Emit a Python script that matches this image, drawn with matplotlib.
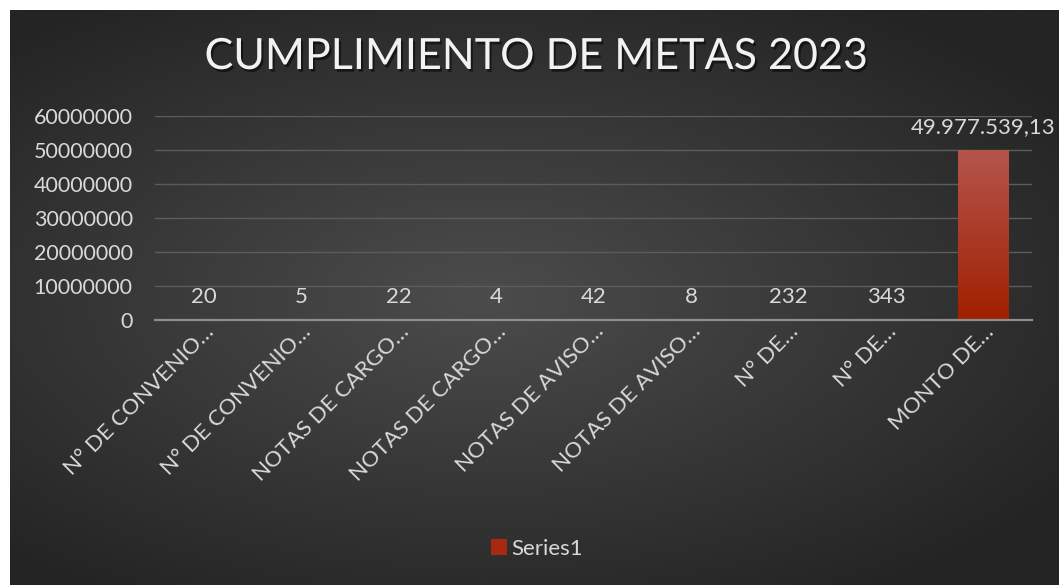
import numpy as np
import matplotlib
matplotlib.use("Agg")
import matplotlib.pyplot as plt
import matplotlib.patheffects as pe
import matplotlib.transforms as mtransforms
from matplotlib.colors import LinearSegmentedColormap

categories = ["N° DE CONVENIO…", "N° DE CONVENIO…", "NOTAS DE CARGO…", "NOTAS DE CARGO…",
              "NOTAS DE AVISO…", "NOTAS DE AVISO…", "N° DE…", "N° DE…", "MONTO DE…"]
values = [20, 5, 22, 4, 42, 8, 232, 343, 49977539.13]
yticks = [0, 10000000, 20000000, 30000000, 40000000, 50000000, 60000000]
series_name = "Series1"
title = "CUMPLIMIENTO DE METAS 2023"


def fmt(v):
    if float(v).is_integer():
        return f"{int(v)}"
    s = f"{v:,.2f}"
    return s.replace(",", "X").replace(".", ",").replace("X", ".")


FONT = "Lato"
TXT = "#d9d9d9"
W, H = 1059, 585
fig = plt.figure(figsize=(W / 100, H / 100), dpi=100, facecolor="white")

# dark background panel with radial gradient
bg = fig.add_axes([10 / W, 0, (W - 10) / W, (H - 10) / H])
bg.set_axis_off()
nx, ny = 400, 220
xx, yy = np.meshgrid(np.linspace(-1, 1, nx), np.linspace(-1, 1, ny))
r = np.sqrt(((xx + 0.1) * 1.0) ** 2 + (yy * 1.1) ** 2)
r = np.clip(r / 1.35, 0, 1)
c0 = np.array([0x4c, 0x4c, 0x4c]) / 255
c1 = np.array([0x24, 0x24, 0x24]) / 255
img = c0[None, None, :] * (1 - r[..., None]) + c1[None, None, :] * r[..., None]
bg.imshow(img, extent=[0, 1, 0, 1], aspect="auto", origin="lower")
bg.set_xlim(0, 1)
bg.set_ylim(0, 1)

# plot axes
x0, x1 = 155, 1032
ytop, ybot = 116, 320
ax = fig.add_axes([x0 / W, (H - ybot) / H, (x1 - x0) / W, (ybot - ytop) / H])
ax.set_facecolor("none")
x = np.arange(len(categories))
bars = ax.bar(x, values, width=0.52, color="#a8290e", linewidth=0, zorder=3)

# gradient on bars
grad = np.linspace(0, 1, 100).reshape(-1, 1)
cmap = LinearSegmentedColormap.from_list("bar", ["#a02000", "#b4554c"])
for b in bars:
    if b.get_height() > 1000:
        im = ax.imshow(grad, extent=[b.get_x(), b.get_x() + b.get_width(), 0, b.get_height()],
                       aspect="auto", origin="lower", cmap=cmap, zorder=4)
        im.set_clip_path(b)

ax.set_xlim(-0.5, len(categories) - 0.5)
ax.set_ylim(0, 60000000)
ax.set_yticks(yticks)
ax.set_yticklabels([str(t) for t in yticks])
ax.grid(axis="y", color="#5c5c5c", linewidth=1.0, zorder=0)
ax.set_axisbelow(True)
for s in ["top", "right", "left"]:
    ax.spines[s].set_visible(False)
ax.spines["bottom"].set_color("#8e8e8e")
ax.spines["bottom"].set_linewidth(1.6)
ax.spines["bottom"].set_zorder(5)
ax.tick_params(axis="y", length=0, pad=16, labelsize=15.5, labelcolor=TXT)
ax.tick_params(axis="x", length=0, pad=6, labelsize=16, labelcolor=TXT)
ax.set_xticks(x)
ax.set_xticklabels(categories, rotation=45, ha="right", va="center",
                   rotation_mode="anchor", fontfamily=FONT)
shift = mtransforms.ScaledTranslation(7 / 100, 0, fig.dpi_scale_trans)
for lab in ax.get_xticklabels():
    lab.set_transform(lab.get_transform() + shift)
for lab in ax.get_yticklabels():
    lab.set_fontfamily(FONT)

for xi, v in zip(x, values):
    ax.annotate(fmt(v), (xi, v), xytext=(0, 16.5), textcoords="offset points",
                ha="center", va="center", fontsize=16, color=TXT, fontfamily=FONT, zorder=6)

# title
fig.text(535 / W, 1 - 57 / H, title, ha="center", va="center", fontsize=31,
         color="#f2f2f2", fontfamily=FONT,
         path_effects=[pe.withSimplePatchShadow(offset=(1.5, -2), shadow_rgbFace="black", alpha=0.5)])

# legend
leg = ax.legend([bars[0]], [series_name], loc="center", bbox_to_anchor=(537 / W, 1 - 549 / H),
                bbox_transform=fig.transFigure, frameon=False,
                labelcolor=TXT, handlelength=0.7, handleheight=0.7, handletextpad=0.2,
                prop={"family": FONT, "size": 16})

fig.savefig("out.png", dpi=100, facecolor="white")
